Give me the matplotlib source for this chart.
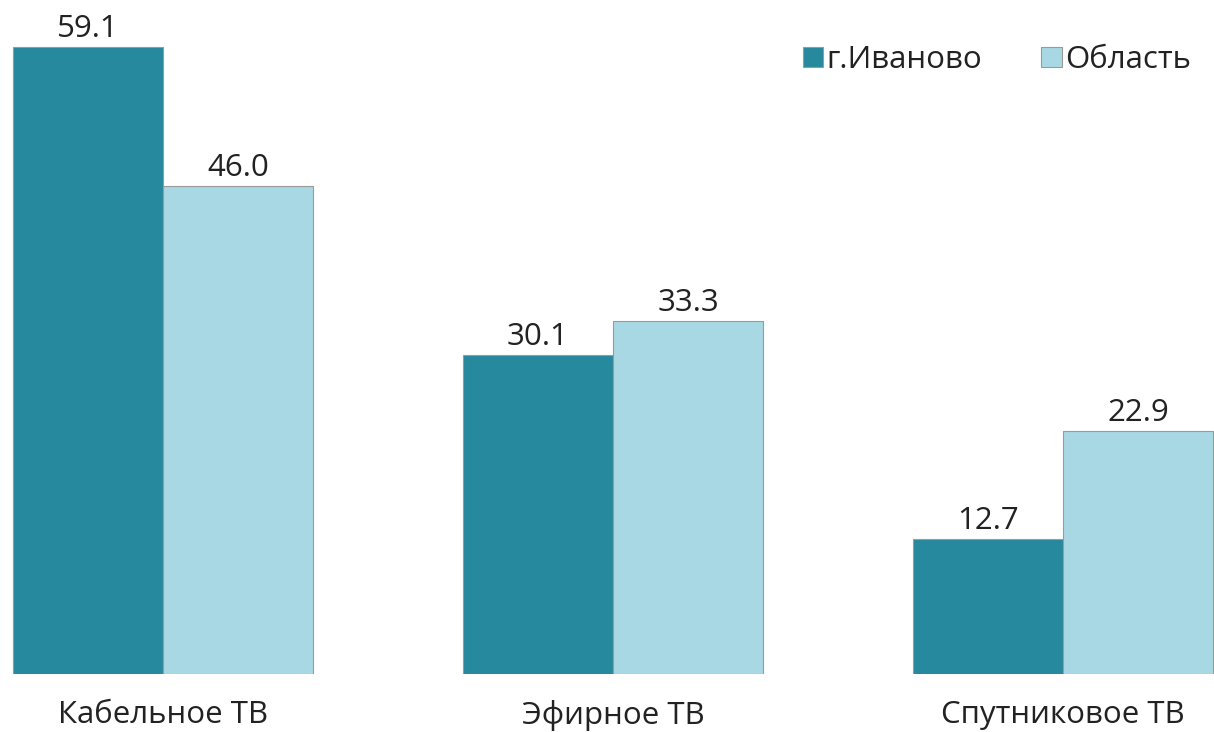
import numpy as np
import matplotlib.pyplot as plt

plt.rcParams['font.family'] = ['Open Sans', 'DejaVu Sans']

categories = ["Кабельное ТВ", "Эфирное ТВ", "Спутниковое ТВ"]
city = [59.1, 30.1, 12.7]
region = [46.0, 33.3, 22.9]
series_names = ["г.Иваново", "Область"]

dark = '#26899E'
light = '#A8D8E3'
edge = '#9A9A9A'
txt = '#222222'
fs = 22.5

W, H = 1214, 732
fig = plt.figure(figsize=(W / 100, H / 100), dpi=100)
base_px = 674
ax = fig.add_axes([0, (H - base_px) / H, 1, base_px / H])

x = np.arange(len(categories))
bw = 1 / 3
b1 = ax.bar(x - bw / 2, city, bw, color=dark, edgecolor=edge, linewidth=0.8, label=series_names[0])
b2 = ax.bar(x + bw / 2, region, bw, color=light, edgecolor=edge, linewidth=0.8, label=series_names[1])

for bars in (b1, b2):
    for r in bars:
        ax.annotate(f"{r.get_height():.1f}", (r.get_x() + r.get_width() / 2, r.get_height()),
                    xytext=(0, 2), textcoords='offset points', ha='center', va='bottom',
                    fontsize=fs, color=txt)

px_per_unit_x = 450
xmin = -bw - 13 / px_per_unit_x
ax.set_xlim(xmin, xmin + W / px_per_unit_x)
ax.set_ylim(0, base_px / 10.61)

ax.set_xticks(x)
ax.set_xticklabels(categories, fontsize=fs, color=txt)
ax.tick_params(axis='x', length=0, pad=19)
ax.set_yticks([])
for s in ax.spines.values():
    s.set_visible(False)

ax.legend(loc='upper right', bbox_to_anchor=(1.004, 0.975), ncol=2, frameon=False,
          fontsize=fs, handlelength=0.65, handleheight=0.65, handletextpad=0.1,
          columnspacing=1.9, labelcolor=txt)

fig.savefig('out.png', dpi=100)
